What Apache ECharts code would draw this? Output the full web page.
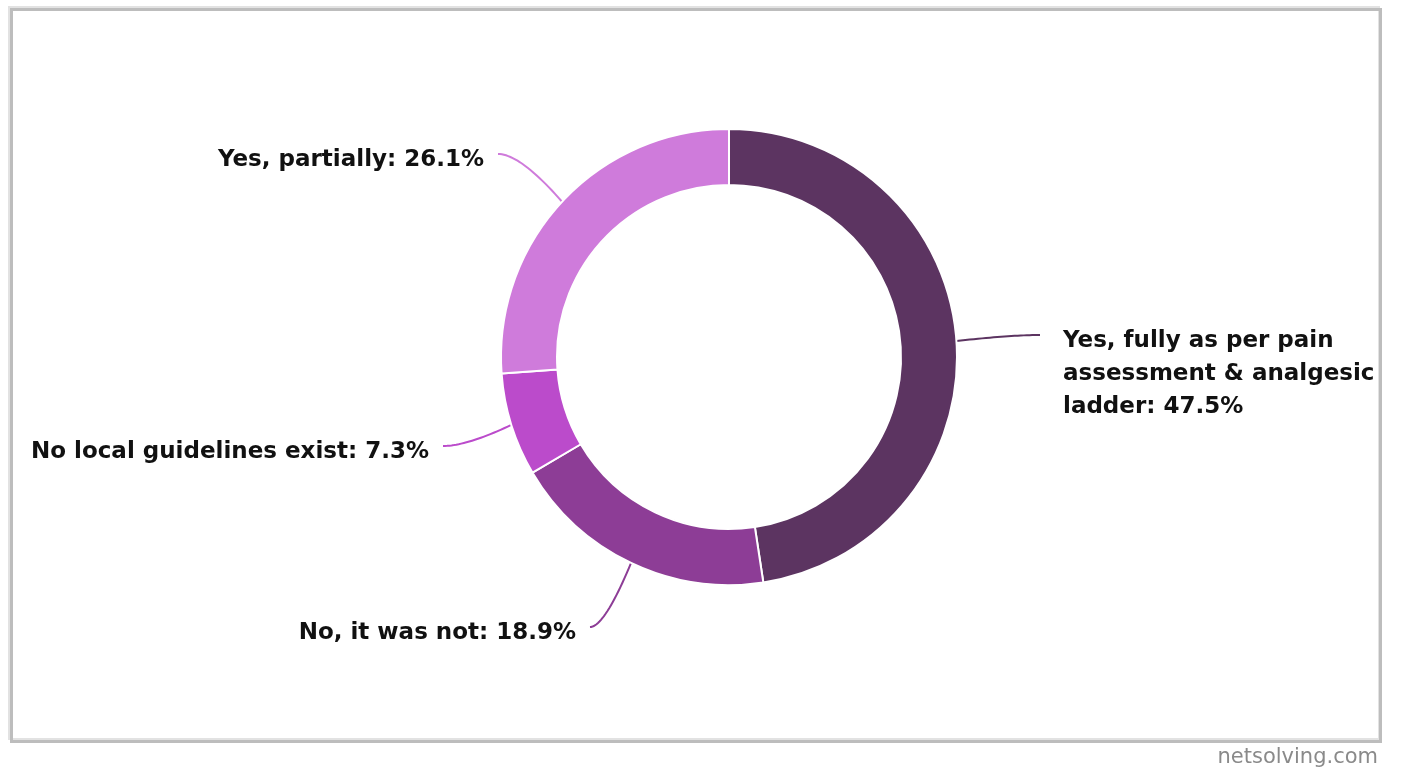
<!DOCTYPE html>
<html>
<head>
<meta charset="utf-8">
<script src="https://cdn.jsdelivr.net/npm/echarts@6/dist/echarts.min.js"></script>
<style>
  html, body { margin: 0; padding: 0; background: #ffffff; }
  #chart { width: 1402px; height: 767px; }
</style>
</head>
<body>
<div id="chart"></div>
<script>
// Survey answers and their shares (percent)
const categories = [
  'Yes, fully as per pain\nassessment & analgesic\nladder',
  'No, it was not',
  'No local guidelines exist',
  'Yes, partially'
];
const shares = [47.5, 18.9, 7.3, 26.1];
const sliceColors = ['#5c3461', '#8d3d96', '#bb4bcb', '#cf7bdb'];

// Ring geometry (pixels)
const CX = 729, CY = 357, R_IN = 172, R_OUT = 228;
const LINE_H = 33;

// Where each label sits: x of the text edge, y of the first text line centre
const labelPlacement = [
  { x: 1063, y: 341, align: 'left',  gap: 23, level: true },
  { x: 576,  y: 633, align: 'right', gap: 14 },
  { x: 429,  y: 452, align: 'right', gap: 14 },
  { x: 484,  y: 160, align: 'right', gap: 14 }
];

const total = shares.reduce((a, b) => a + b, 0);
const cumBefore = shares.map((_, i) => shares.slice(0, i).reduce((a, b) => a + b, 0));

// Leader line: a quadratic curve from the ring edge that ends flat beside the label
function leaderPoints(i) {
  const pl = labelPlacement[i];
  const left = pl.align === 'left';
  const ex = left ? pl.x - pl.gap : pl.x + pl.gap;
  const ey = pl.y - 6;
  let sx, sy;
  if (pl.level) {
    sy = pl.y;
    sx = CX + Math.sqrt(R_OUT * R_OUT - (sy - CY) * (sy - CY));
  } else {
    const phi = (cumBefore[i] + shares[i] / 2) / total * Math.PI * 2;
    sx = CX + R_OUT * Math.sin(phi);
    sy = CY - R_OUT * Math.cos(phi);
  }
  const qx = ex + (sx - ex) * 0.35, qy = ey;
  const pts = [];
  const n = 24;
  for (let k = 0; k <= n; k++) {
    const t = k / n, u = 1 - t;
    pts.push([u * u * sx + 2 * u * t * qx + t * t * ex,
              u * u * sy + 2 * u * t * qy + t * t * ey]);
  }
  return pts;
}

const chart = echarts.init(document.getElementById('chart'), null, { renderer: 'canvas' });

chart.setOption({
  animation: false,
  backgroundColor: '#ffffff',
  graphic: [
    { type: 'rect', shape: { x: 9, y: 7, width: 1370, height: 732 },
      style: { fill: null, stroke: '#e2e2e2', lineWidth: 2 }, silent: true },
    { type: 'rect', shape: { x: 11.5, y: 9.5, width: 1369, height: 732 },
      style: { fill: null, stroke: '#bdbdbd', lineWidth: 3 }, silent: true },
    { type: 'text', right: 24, top: 747,
      style: { text: 'netsolving.com', fill: '#8a8a8a', font: '21px "DejaVu Sans"' }, silent: true }
  ],
  series: [{
    type: 'pie',
    center: [CX, CY],
    radius: [R_IN, R_OUT],
    startAngle: 90,
    clockwise: true,
    avoidLabelOverlap: false,
    itemStyle: { borderColor: '#ffffff', borderWidth: 2 },
    label: {
      show: true,
      position: 'outside',
      formatter: p => p.name + ': ' + p.value.toFixed(1) + '%',
      fontFamily: '"DejaVu Sans"',
      fontWeight: 'bold',
      fontSize: 23,
      lineHeight: LINE_H,
      color: '#111111'
    },
    labelLine: {
      show: true,
      smooth: false,
      length: 20,
      length2: 20,
      lineStyle: { width: 2 }
    },
    labelLayout: function (p) {
      const pl = labelPlacement[p.dataIndex];
      return {
        x: pl.x,
        y: pl.y - LINE_H / 2,
        align: pl.align,
        verticalAlign: 'top',
        labelLinePoints: leaderPoints(p.dataIndex)
      };
    },
    emphasis: { disabled: true },
    data: categories.map((name, i) => ({
      name: name,
      value: shares[i],
      itemStyle: { color: sliceColors[i] }
    }))
  }]
});
</script>
</body>
</html>
